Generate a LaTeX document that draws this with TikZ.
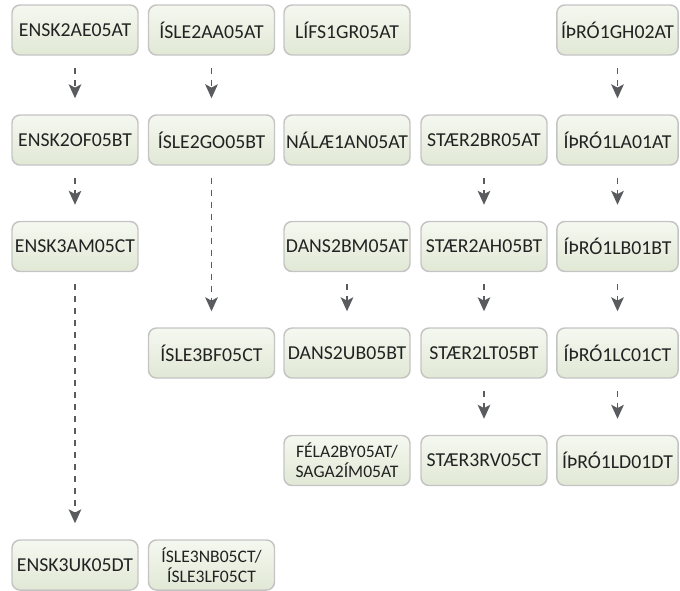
\documentclass[tikz,border=0pt]{standalone}
\usepackage{fontspec}
\setmainfont{Carlito}
\usetikzlibrary{arrows.meta}
\definecolor{boxline}{HTML}{C4C4C4}
\definecolor{boxtop}{HTML}{F5F8F0}
\definecolor{boxbot}{HTML}{E1E8D5}
\definecolor{arr}{HTML}{5A5B5E}
\definecolor{txt}{HTML}{222222}
\begin{document}
\begin{tikzpicture}[x=0.75pt,y=-0.75pt,
  course/.style={draw=boxline, line width=1.1pt, rounded corners=6pt,
    top color=boxtop, bottom color=boxbot,
    minimum width=94.5pt, minimum height=37.5pt, inner sep=0pt,
    align=center, text=txt, font=\fontsize{14.8}{17}\selectfont},
  small/.style={font=\fontsize{13.2}{15}\selectfont},
  narrow/.style={minimum width=91pt},
  link/.style={draw=arr, line width=1.2pt, dash pattern=on 4.5pt off 4.5pt,
    -{Stealth[length=10.5pt,width=9.5pt,inset=2.5pt]},
    shorten <=9pt, shorten >=12pt}]
\useasboundingbox (0,0) rectangle (680,590);
% row 1
\node[course] (e1) at (75,30) {ENSK2AE05AT};
\node[course] (i1) at (211.5,30) {ÍSLE2AA05AT};
\node[course] (l1) at (347,30) {LÍFS1GR05AT};
\node[course,narrow] (t1) at (617.5,30) {ÍÞRÓ1GH02AT};
% row 2
\node[course] (e2) at (75,140) {ENSK2OF05BT};
\node[course] (i2) at (211.5,140) {ÍSLE2GO05BT};
\node[course] (n2) at (347,140) {NÁLÆ1AN05AT};
\node[course] (s2) at (484,140) {STÆR2BR05AT};
\node[course,narrow] (t2) at (617.5,140) {ÍÞRÓ1LA01AT};
% row 3
\node[course] (e3) at (75,246.5) {ENSK3AM05CT};
\node[course] (d3) at (347,246.5) {DANS2BM05AT};
\node[course] (s3) at (484,246.5) {STÆR2AH05BT};
\node[course,narrow] (t3) at (617.5,246.5) {ÍÞRÓ1LB01BT};
% row 4
\node[course] (i4) at (211.5,353) {ÍSLE3BF05CT};
\node[course] (d4) at (347,353) {DANS2UB05BT};
\node[course] (s4) at (484,353) {STÆR2LT05BT};
\node[course,narrow] (t4) at (617.5,353) {ÍÞRÓ1LC01CT};
% row 5
\node[course,small] (f5) at (347,460.5) {FÉLA2BY05AT/\\SAGA2ÍM05AT};
\node[course] (s5) at (484,460.5) {STÆR3RV05CT};
\node[course,narrow] (t5) at (617.5,460.5) {ÍÞRÓ1LD01DT};
% row 6
\node[course] (e6) at (75,565) {ENSK3UK05DT};
\node[course,small] (i6) at (211.5,565) {ÍSLE3NB05CT/\\ÍSLE3LF05CT};
% connectors
\draw[link] (e1) -- (e2);
\draw[link] (e2) -- (e3);
\draw[link] (e3) -- (e6);
\draw[link] (i1) -- (i2);
\draw[link] (i2) -- (i4);
\draw[link] (d3) -- (d4);
\draw[link] (s2) -- (s3);
\draw[link] (s3) -- (s4);
\draw[link] (s4) -- (s5);
\draw[link] (t1) -- (t2);
\draw[link] (t2) -- (t3);
\draw[link] (t3) -- (t4);
\draw[link] (t4) -- (t5);
\end{tikzpicture}
\end{document}
